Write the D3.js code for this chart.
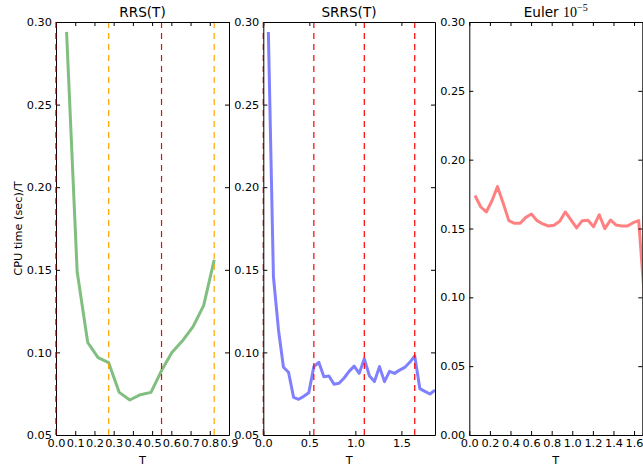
<!DOCTYPE html>
<html>
<head>
<meta charset="UTF-8">
<title>CPU time per T</title>
<script src="https://cdn.jsdelivr.net/npm/d3@7"></script>
<style>
  body { margin: 0; background: #fff; }
  svg { font-family: "DejaVu Sans", sans-serif; }
  .tick text { font-size: 11.3px; fill: #000; }
  .tick line, .domain { stroke: #000; }
</style>
</head>
<body>
<svg width="643" height="468"></svg>
<script>
// RRS(T)
const rrsT = [0.055, 0.110, 0.165, 0.219, 0.274, 0.329, 0.384, 0.439, 0.494, 0.549,
              0.603, 0.658, 0.713, 0.768, 0.823];
const rrsVal = [0.294, 0.149, 0.106, 0.0968, 0.0938, 0.0758, 0.0712, 0.0744, 0.0758, 0.0890,
                0.100, 0.107, 0.1156, 0.1283, 0.156];

// SRRS(T)
const srrsT = [0.055, 0.110, 0.165, 0.219, 0.274, 0.329, 0.384, 0.439, 0.494, 0.549,
               0.603, 0.658, 0.713, 0.768, 0.823, 0.878, 0.932, 0.987, 1.042, 1.097,
               1.152, 1.207, 1.262, 1.316, 1.371, 1.426, 1.481, 1.536, 1.591, 1.645,
               1.700, 1.755, 1.810, 1.865];
const srrsVal = [0.294, 0.1458, 0.1136, 0.091, 0.088, 0.0728, 0.0716, 0.0734, 0.0756, 0.0914,
                 0.094, 0.0853, 0.0857, 0.0807, 0.0813, 0.0845, 0.0885, 0.0917, 0.0873, 0.0961,
                 0.0859, 0.0823, 0.0914, 0.0823, 0.0885, 0.0873, 0.0893, 0.0909, 0.094, 0.0978,
                 0.0781, 0.0764, 0.0748, 0.0772];

// Euler 1e-5
const eulerT = [0.055, 0.110, 0.165, 0.219, 0.274, 0.329, 0.384, 0.439, 0.494, 0.549,
                0.603, 0.658, 0.713, 0.768, 0.823, 0.878, 0.932, 0.987, 1.042, 1.097,
                1.152, 1.207, 1.262, 1.316, 1.371, 1.426, 1.481, 1.536, 1.591, 1.645,
                1.700];
const eulerVal = [0.174, 0.1658, 0.162, 0.170, 0.1804, 0.1683, 0.1557, 0.1538, 0.1538, 0.1581,
                  0.1605, 0.1557, 0.1533, 0.1518, 0.1523, 0.1552, 0.162, 0.1562, 0.1504, 0.1557,
                  0.156, 0.1513, 0.160, 0.1499, 0.1562, 0.1525, 0.1518, 0.1518, 0.1542, 0.1557,
                  0.100];

// vertical dashed markers
const rrsMarks = [0.274, 0.549, 0.823];
const srrsMarks = [0.549, 1.097, 1.645];

// ticks
const yTicksA = [0.05, 0.10, 0.15, 0.20, 0.25, 0.30];
const yTicksB = [0.00, 0.05, 0.10, 0.15, 0.20, 0.25, 0.30];
const xTicksRRS = [0.0, 0.1, 0.2, 0.3, 0.4, 0.5, 0.6, 0.7, 0.8, 0.9];
const xTicksSRRS = [0.0, 0.5, 1.0, 1.5];
const xTicksEuler = [0.0, 0.2, 0.4, 0.6, 0.8, 1.0, 1.2, 1.4, 1.6];

const plotTop = 22, plotBottom = 435;
const svg = d3.select('svg');

const panels = [
    {id: 'p1', left: 56, right: 229, xMax: 0.9, yMin: 0.05, t: rrsT, v: rrsVal, color: '#80bf80',
     xTicks: xTicksRRS, yTicks: yTicksA, marks: rrsMarks,
     markColors: ['#ffa500', 'red', '#ffa500'], zero: true},
    {id: 'p2', left: 263.3, right: 435, xMax: d3.max(srrsT), yMin: 0.05, t: srrsT, v: srrsVal, color: '#8080ff',
     xTicks: xTicksSRRS, yTicks: yTicksA, marks: srrsMarks,
     markColors: ['red', 'red', 'red'], zero: true},
    {id: 'p3', left: 469.3, right: 642.3, xMax: 1.68, yMin: 0.0, t: eulerT, v: eulerVal, color: '#ff8080',
     xTicks: xTicksEuler, yTicks: yTicksB, marks: [], markColors: [], zero: false}
];

panels.forEach(p => {
    const x = d3.scaleLinear().domain([0, p.xMax]).range([p.left, p.right]);
    const y = d3.scaleLinear().domain([p.yMin, 0.30]).range([plotBottom, plotTop]);
    const g = svg.append('g');

    g.append('clipPath').attr('id', 'clip-' + p.id)
        .append('rect')
        .attr('x', p.left).attr('y', plotTop)
        .attr('width', p.right - p.left).attr('height', plotBottom - plotTop);

    const line = d3.line().x(d => x(d[0])).y(d => y(d[1]));
    g.append('path')
        .datum(p.t.map((t, i) => [t, p.v[i]]))
        .attr('clip-path', `url(#clip-${p.id})`)
        .attr('fill', 'none')
        .attr('stroke', p.color)
        .attr('stroke-width', 3)
        .attr('stroke-linejoin', 'round')
        .attr('d', line);

    g.append('g').selectAll('line').data(p.marks).enter().append('line')
        .attr('x1', d => x(d)).attr('x2', d => x(d))
        .attr('y1', plotBottom).attr('y2', plotTop)
        .attr('stroke', (d, i) => p.markColors[i])
        .attr('stroke-width', 1.2)
        .attr('stroke-dasharray', '6,5');

    // axes, ticks pointing inward on all four sides
    g.append('g')
        .attr('transform', `translate(0,${plotBottom})`)
        .call(d3.axisBottom(x).tickValues(p.xTicks).tickSizeInner(-4).tickSizeOuter(0)
            .tickPadding(4).tickFormat(d3.format('.1f')));
    g.append('g')
        .attr('transform', `translate(0,${plotTop})`)
        .call(d3.axisTop(x).tickValues(p.xTicks).tickSizeInner(-4).tickSizeOuter(0).tickFormat(''));
    g.append('g')
        .attr('transform', `translate(${p.left},0)`)
        .call(d3.axisLeft(y).tickValues(p.yTicks).tickSizeInner(-4).tickSizeOuter(0)
            .tickPadding(4).tickFormat(d3.format('.2f')));
    g.append('g')
        .attr('transform', `translate(${p.right},0)`)
        .call(d3.axisRight(y).tickValues(p.yTicks).tickSizeInner(-4).tickSizeOuter(0).tickFormat(''));

    g.selectAll('g').attr('font-family', null).attr('font-size', null);

    if (p.zero) {
        g.append('line')
            .attr('x1', x(0)).attr('x2', x(0))
            .attr('y1', plotBottom).attr('y2', plotTop)
            .attr('stroke', '#8b0000')
            .attr('stroke-width', 1.2)
            .attr('stroke-dasharray', '6,5');
    }

    g.append('text')
        .attr('x', (p.left + p.right) / 2).attr('y', 463.5)
        .attr('text-anchor', 'middle')
        .attr('font-size', 11.3)
        .text('T');
});

// titles
svg.append('text').attr('x', 142.5).attr('y', 17).attr('text-anchor', 'middle')
    .attr('font-size', 13.6).text('RRS(T)');
svg.append('text').attr('x', 349).attr('y', 17).attr('text-anchor', 'middle')
    .attr('font-size', 13.6).text('SRRS(T)');
const eu = svg.append('text').attr('x', 555.7).attr('y', 17).attr('text-anchor', 'middle')
    .attr('font-size', 13.6);
eu.append('tspan').text('Euler ');
eu.append('tspan').attr('font-family', '"Liberation Serif", serif').attr('font-size', 14).text('10');
eu.append('tspan').attr('font-family', '"Liberation Serif", serif').attr('font-size', 10)
    .attr('dy', -6).text('\u22125');

// y label
svg.append('text')
    .attr('transform', 'translate(21.5,228.5) rotate(-90)')
    .attr('text-anchor', 'middle')
    .attr('font-size', 11.3)
    .text('CPU time (sec)/T');
</script>
</body>
</html>
